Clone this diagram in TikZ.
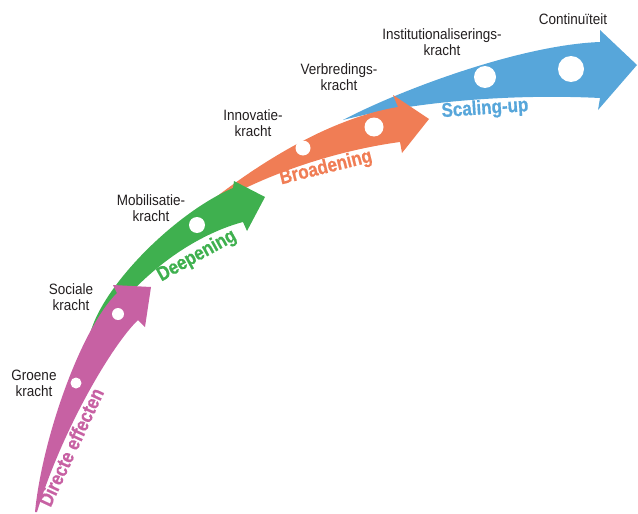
\documentclass[tikz,border=0pt]{standalone}
\usepackage{fontspec}
\setmainfont{Liberation Sans}
\newfontfamily\labfont[FakeStretch=0.9]{Liberation Sans}
\newfontfamily\boldfont[FakeStretch=0.85,FakeBold=0.6]{Liberation Sans Bold}
\definecolor{pinkc}{HTML}{C761A3}
\definecolor{greenc}{HTML}{3FB04F}
\definecolor{orangec}{HTML}{F07D55}
\definecolor{bluec}{HTML}{57A6DA}
\definecolor{txt}{HTML}{231F20}
\tikzset{
  lab/.style={align=center, text=txt, inner sep=0pt, font=\labfont\fontsize{15}{16}\selectfont},
  big/.style={inner sep=0pt, font=\boldfont\fontsize{20}{22}\selectfont},
  dot/.style={fill=white}
}
\begin{document}
\begin{tikzpicture}[x=1pt,y=-1pt]
\useasboundingbox (0,0) rectangle (638,514);
% blue arrow
\fill[bluec] (343,120) .. controls (400,90) and (520,45) .. (600,42) -- (600,30) -- (637,65) -- (598,110) -- (600,98) .. controls (520,94) and (420,100) .. cycle;
% orange arrow
\fill[orangec] (178,228) .. controls (238,176) and (320,120) .. (398,107) -- (393,95) -- (429,119) -- (402,153) -- (400,142) .. controls (340,150) and (250,175) .. cycle;
% green arrow
\fill[greenc] (88,348) .. controls (88,300) and (170,215) .. (233,188) -- (234,181) -- (265,197) -- (247,231) -- (243,222) .. controls (205,232) and (140,265) .. cycle;
% pink arrow
\fill[pinkc] (35,512) .. controls (42,440) and (80,330) .. (117,293) -- (113,285) -- (151,287) -- (145,327) -- (138,320) .. controls (112,345) and (62,430) .. (37,512) -- cycle;
% dots
\fill[dot] (76,383) circle (5.5);
\fill[dot] (118,314) circle (6);
\fill[dot] (197,225) circle (8);
\fill[dot] (303,148) circle (7.5);
\fill[dot] (374,127) circle (9.5);
\fill[dot] (485,77) circle (11);
\fill[dot] (571,69) circle (13);
% labels
\node[lab] (groene) at (34,383) {Groene\\kracht};
\node[lab] (sociale) at (71,297) {Sociale\\kracht};
\node[lab] (mobil) at (151,208) {Mobilisatie-\\kracht};
\node[lab] (innov) at (253,123) {Innovatie-\\kracht};
\node[lab] (verbr) at (339,77) {Verbredings-\\kracht};
\node[lab] (instit) at (442,42) {Institutionaliserings-\\kracht};
\node[lab] (conti) at (573,19) {Continuïteit};
% arrow names
\node[big, text=pinkc, rotate=65] (directe) at (71,447) {Directe effecten};
\node[big, text=greenc, rotate=29] (deep) at (197,256) {Deepening};
\node[big, text=orangec, rotate=14] (broad) at (326,168) {Broadening};
\node[big, text=bluec, rotate=4] (scal) at (485,109) {Scaling-up};
\end{tikzpicture}
\end{document}
